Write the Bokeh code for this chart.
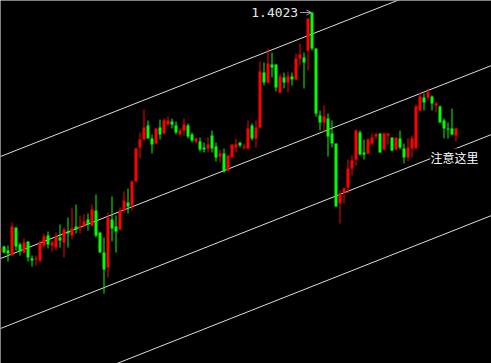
from bokeh.plotting import figure
from bokeh.models import Range1d, ColumnDataSource, Label, Arrow, OpenHead
from bokeh.embed import file_html
from bokeh.resources import INLINE

bars = list(range(-1, 114))

opens = [
    1.3784, 1.3789, 1.3785, 1.3780, 1.3808, 1.3791, 1.3783, 1.3794, 1.3777, 1.3776,
    1.3775, 1.3790, 1.3800, 1.3790, 1.3788, 1.3798, 1.3793, 1.3804, 1.3800, 1.3809,
    1.3807, 1.3810, 1.3816, 1.3810, 1.3825, 1.3803, 1.3783, 1.3768, 1.3816, 1.3809,
    1.3806, 1.3825, 1.3833, 1.3830, 1.3854, 1.3888, 1.3896, 1.3910, 1.3897, 1.3892,
    1.3908, 1.3902, 1.3911, 1.3914, 1.3910, 1.3901, 1.3905, 1.3910, 1.3901, 1.3894,
    1.3894, 1.3888, 1.3887, 1.3900, 1.3889, 1.3879, 1.3882, 1.3865, 1.3878, 1.3888,
    1.3893, 1.3888, 1.3887, 1.3910, 1.3897, 1.3908, 1.3963, 1.3953, 1.3971, 1.3971,
    1.3943, 1.3958, 1.3953, 1.3959, 1.3956, 1.3977, 1.3978, 1.3985, 1.4023, 1.3987,
    1.3920, 1.3913, 1.3917, 1.3902, 1.3892, 1.3832, 1.3843, 1.3848, 1.3867, 1.3876,
    1.3903, 1.3883, 1.3882, 1.3892, 1.3899, 1.3902, 1.3886, 1.3900, 1.3898, 1.3886,
    1.3897, 1.3887, 1.3878, 1.3887, 1.3887, 1.3925, 1.3938, 1.3938, 1.3939, 1.3930,
    1.3929, 1.3915, 1.3907, 1.3907, 1.3900]

highs = [
    1.3788, 1.3790, 1.3790, 1.3813, 1.3808, 1.3793, 1.3797, 1.3794, 1.3780, 1.3780,
    1.3795, 1.3802, 1.3804, 1.3795, 1.3803, 1.3811, 1.3808, 1.3818, 1.3828, 1.3831,
    1.3820, 1.3821, 1.3822, 1.3831, 1.3841, 1.3803, 1.3798, 1.3823, 1.3839, 1.3820,
    1.3828, 1.3844, 1.3847, 1.3855, 1.3888, 1.3903, 1.3926, 1.3915, 1.3901, 1.3907,
    1.3916, 1.3917, 1.3919, 1.3917, 1.3914, 1.3907, 1.3917, 1.3912, 1.3903, 1.3898,
    1.3898, 1.3893, 1.3898, 1.3905, 1.3893, 1.3886, 1.3887, 1.3880, 1.3891, 1.3897,
    1.3893, 1.3892, 1.3915, 1.3912, 1.3915, 1.3974, 1.3973, 1.3987, 1.3983, 1.3971,
    1.3962, 1.3963, 1.3964, 1.3963, 1.3982, 1.3992, 1.3983, 1.4017, 1.4023, 1.3987,
    1.3925, 1.3930, 1.3922, 1.3915, 1.3892, 1.3845, 1.3848, 1.3876, 1.3880, 1.3906,
    1.3905, 1.3896, 1.3897, 1.3902, 1.3903, 1.3902, 1.3903, 1.3902, 1.3898, 1.3898,
    1.3905, 1.3892, 1.3897, 1.3900, 1.3931, 1.3943, 1.3942, 1.3947, 1.3940, 1.3934,
    1.3930, 1.3917, 1.3913, 1.3927, 1.3908]

lows = [
    1.3784, 1.3782, 1.3774, 1.3780, 1.3785, 1.3780, 1.3782, 1.3774, 1.3769, 1.3770,
    1.3773, 1.3788, 1.3787, 1.3784, 1.3785, 1.3788, 1.3778, 1.3788, 1.3796, 1.3802,
    1.3802, 1.3808, 1.3805, 1.3809, 1.3798, 1.3783, 1.3742, 1.3758, 1.3794, 1.3783,
    1.3805, 1.3823, 1.3822, 1.3825, 1.3853, 1.3877, 1.3895, 1.3897, 1.3882, 1.3891,
    1.3896, 1.3901, 1.3910, 1.3907, 1.3901, 1.3900, 1.3900, 1.3897, 1.3893, 1.3892,
    1.3884, 1.3883, 1.3883, 1.3883, 1.3874, 1.3873, 1.3863, 1.3864, 1.3878, 1.3883,
    1.3888, 1.3886, 1.3886, 1.3895, 1.3888, 1.3907, 1.3950, 1.3952, 1.3958, 1.3944,
    1.3942, 1.3947, 1.3943, 1.3950, 1.3955, 1.3970, 1.3947, 1.3965, 1.3985, 1.3919,
    1.3905, 1.3903, 1.3879, 1.3888, 1.3829, 1.3812, 1.3832, 1.3842, 1.3860, 1.3870,
    1.3880, 1.3876, 1.3881, 1.3890, 1.3896, 1.3883, 1.3885, 1.3891, 1.3884, 1.3885,
    1.3886, 1.3872, 1.3874, 1.3878, 1.3887, 1.3924, 1.3925, 1.3935, 1.3925, 1.3923,
    1.3913, 1.3897, 1.3897, 1.3900, 1.3894]

closes = [
    1.3788, 1.3783, 1.3782, 1.3809, 1.3789, 1.3784, 1.3793, 1.3778, 1.3775, 1.3777,
    1.3793, 1.3799, 1.3791, 1.3793, 1.3799, 1.3795, 1.3806, 1.3802, 1.3807, 1.3806,
    1.3809, 1.3814, 1.3811, 1.3826, 1.3800, 1.3783, 1.3766, 1.3818, 1.3807, 1.3804,
    1.3825, 1.3835, 1.3829, 1.3854, 1.3887, 1.3896, 1.3908, 1.3897, 1.3891, 1.3907,
    1.3901, 1.3915, 1.3915, 1.3911, 1.3903, 1.3905, 1.3911, 1.3899, 1.3895, 1.3897,
    1.3886, 1.3886, 1.3891, 1.3887, 1.3878, 1.3882, 1.3864, 1.3880, 1.3891, 1.3891,
    1.3890, 1.3889, 1.3907, 1.3897, 1.3908, 1.3964, 1.3953, 1.3972, 1.3968, 1.3948,
    1.3959, 1.3953, 1.3959, 1.3956, 1.3977, 1.3981, 1.3973, 1.4017, 1.3987, 1.3922,
    1.3913, 1.3919, 1.3899, 1.3892, 1.3829, 1.3842, 1.3847, 1.3867, 1.3875, 1.3905,
    1.3881, 1.3881, 1.3896, 1.3898, 1.3901, 1.3883, 1.3902, 1.3902, 1.3885, 1.3898,
    1.3888, 1.3878, 1.3888, 1.3897, 1.3929, 1.3939, 1.3933, 1.3943, 1.3932, 1.3932,
    1.3913, 1.3907, 1.3906, 1.3901, 1.3907]

# parallel channel lines: price at left edge and right edge of the view
channel_left = [1.3879, 1.3777, 1.3707, 1.3626]
channel_right = [1.4072, 1.3970, 1.3901, 1.3820]

note_text = "注意这里"

UP = "#ff0000"
DOWN = "#00ff00"

colors = [UP if c > o else DOWN for o, c in zip(opens, closes)]
src = ColumnDataSource(dict(
    x=bars, o=opens, h=highs, l=lows, c=closes,
    top=[max(o, c) for o, c in zip(opens, closes)],
    bot=[min(o, c) for o, c in zip(opens, closes)],
    color=colors,
))

x0, x1 = -0.875, 121.875
p = figure(width=491, height=363, output_backend="svg", toolbar_location=None,
           x_range=Range1d(x0, x1), y_range=Range1d(1.3672, 1.4035),
           min_border=0, background_fill_color="black", border_fill_color="black")
p.axis.visible = False
p.grid.visible = False
p.outline_line_color = None

p.segment(x0=[x0] * len(channel_left), y0=channel_left,
          x1=[x1] * len(channel_right), y1=channel_right,
          line_color="#dcdcdc", line_width=1)

p.segment(x0="x", y0="h", x1="x", y1="l", source=src, line_color="color", line_width=1)
p.vbar(x="x", width=0.75, top="top", bottom="bot", source=src,
       fill_color="color", line_color=None)

peak = max(highs)
peak_i = bars[highs.index(peak)]

p.add_layout(Label(x=peak_i - 3.45, y=peak, text=f"{peak:.4f}", text_align="right",
                   text_baseline="middle", text_color="#e8e8e8",
                   text_font="DejaVu Sans Mono", text_font_size="13px"))
p.add_layout(Arrow(x_start=peak_i - 3.0, y_start=peak, x_end=peak_i - 0.15, y_end=peak,
                   line_color="#a0a0a0", line_width=1,
                   end=OpenHead(size=5, line_color="#a0a0a0", line_width=1)))

p.add_layout(Label(x=106.6, y=1.38785, text=note_text, text_align="left",
                   text_baseline="middle", text_color="white",
                   text_font="Noto Sans CJK SC", text_font_size="12px",
                   background_fill_color="black"))

open("out.html", "w").write(file_html(p, INLINE))
